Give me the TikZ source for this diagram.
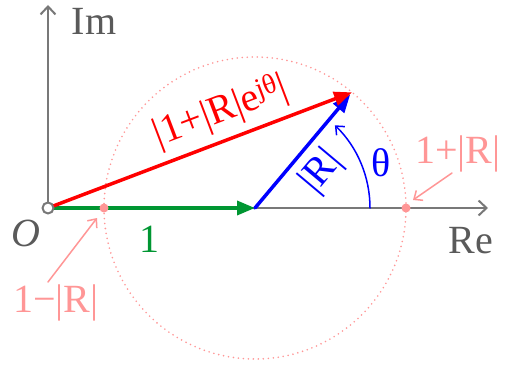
\documentclass[tikz,border=0pt]{standalone}
\usepackage{fontspec}
\setmainfont{Liberation Serif}
\usetikzlibrary{arrows.meta}
\definecolor{axgray}{RGB}{120,120,120}
\definecolor{txtgray}{RGB}{90,90,90}
\definecolor{vgreen}{RGB}{0,150,50}
\definecolor{pinkish}{RGB}{255,150,150}
\begin{document}
\begin{tikzpicture}[x=1pt, y=1pt, line join=round, line cap=round,
	font=\fontsize{40}{48}\selectfont, every node/.style={inner sep=0pt},
	axis/.style={draw=axgray, line width=2pt, -{Straight Barb[length=8pt,width=15pt]}},
	vec/.style={line width=3.5pt, -{Triangle[length=18pt,width=14pt]}},
	thin arrow/.style={line width=1.5pt, -{Straight Barb[length=7pt,width=12pt]}}]
	\useasboundingbox (-48,-156) rectangle (457,208);
	% points
	\coordinate (O) at (0,0);
	\coordinate (C) at (207,0);
	\path (C) ++(50:151) coordinate (P);
	% circle |R| round the end of 1
	\draw[pinkish, line width=1.8pt, dash pattern=on 0pt off 5pt] (C) circle (151);
	% axes
	\draw[axis] (O) -- (440,0) coordinate (ReEnd);
	\draw[axis] (O) -- (0,203) coordinate (ImEnd);
	\node[txtgray] (Re) at (423,-33) {Re};
	\node[txtgray] (Im) at (46,187) {Im};
	\node[txtgray, font=\fontsize{40}{48}\selectfont\itshape] (Olbl) at (-22,-25) {O};
	% vectors
	\draw[vec, draw=vgreen, fill=vgreen] (O) -- (C);
	\draw[vec, draw=blue, fill=blue, shorten >=3pt] (C) -- (P);
	\draw[vec, draw=red, fill=red] (O) -- (P);
	\draw[axgray, line width=2pt, fill=white] (O) circle (5.5);
	% angle
	\draw[blue, thin arrow] (C) ++(115,0) arc (0:46:115);
	\node[blue] (th) at (333,45) {θ};
	% labels on the vectors
	\node[vgreen] (one) at (101,-31) {1};
	\node[blue, rotate=50] (Rlbl) at (274,36) {|R|};
	\node[red, rotate=20.8] (sum) at (173,96) {|1+|R|e\textsuperscript{jθ}|};
	% min and max
	\foreach \x/\n in {56/mn, 358/mx}
	\fill[pinkish] (\x,0) circle (4.5) coordinate (\n);
	\node[pinkish] (mnlbl) at (8,-95) {1−|R|};
	\node[pinkish] (mxlbl) at (410,54) {1+|R|};
	\draw[pinkish, thin arrow] (0,-74) -- (49,-10);
	\draw[pinkish, thin arrow] (404,35) -- (365,8);
\end{tikzpicture}
\end{document}
